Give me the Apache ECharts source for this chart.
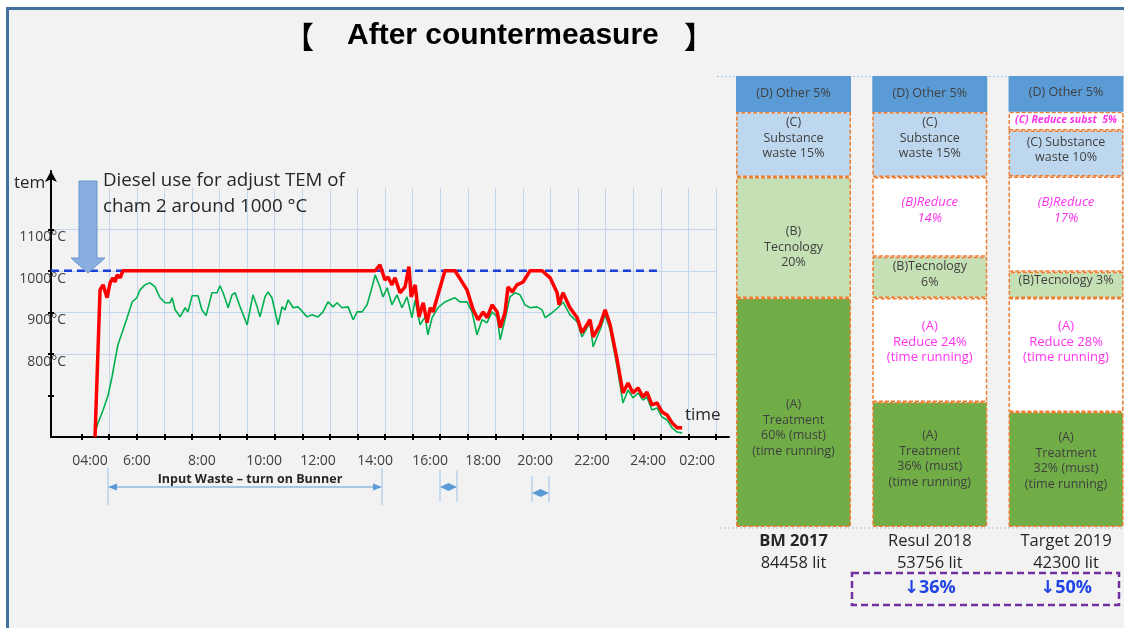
<!DOCTYPE html>
<html><head><meta charset="utf-8">
<script src="https://cdn.jsdelivr.net/npm/echarts@6/dist/echarts.min.js"></script>
<style>html,body{margin:0;padding:0;background:#fff}#c{width:1124px;height:628px}</style>
</head><body><div id="c"></div>
<script>
// ---------- Left chart data (time in hours, temperature in °C) ----------
const timeLabels   = ['04:00','6:00','8:00','10:00','12:00','14:00','16:00','18:00','20:00','22:00','24:00','02:00'];
const timeLabelPos = [4.0, 5.68, 8.01, 10.24, 12.17, 14.22, 16.19, 18.09, 19.95, 21.99, 24.0, 25.76];
const tempLabels   = [800, 900, 1000, 1100];
const targetTemp   = 1000;
const targetSpan   = [2.6, 24.43];

const redTime = [4.18,4.36,4.47,4.54,4.61,4.72,4.82,4.90,4.97,5.08,5.18,14.22,14.39,14.57,14.68,14.82,14.93,15.11,15.29,15.43,15.51,15.65,15.79,15.94,16.08,16.19,16.29,16.47,16.72,17.08,17.51,17.73,17.91,18.09,18.23,18.41,18.59,18.70,18.87,18.98,19.13,19.30,19.52,19.77,20.20,20.49,20.74,20.81,20.95,21.20,21.46,21.63,21.92,22.03,22.28,22.46,22.64,22.89,23.10,23.28,23.46,23.64,23.82,23.96,24.14,24.32,24.50,24.68,24.86,25.04,25.22];
const redTemp = [600,954,966,966,935,971,983,973,990,983,1000,1000,1014,978,985,966,983,947,961,1010,937,966,889,923,875,911,901,942,1000,1000,954,906,882,901,887,918,901,863,899,961,949,966,973,1000,1000,983,947,918,947,911,887,851,882,841,870,906,870,786,706,730,706,718,696,708,677,682,660,653,634,622,622];

const greenTime = [4.18,4.29,4.47,4.65,4.79,4.90,5.00,5.15,5.33,5.51,5.68,5.79,5.97,6.15,6.33,6.51,6.69,6.87,6.94,7.05,7.23,7.41,7.51,7.66,7.87,8.01,8.16,8.37,8.55,8.66,8.77,8.95,9.09,9.20,9.38,9.63,9.84,9.99,10.09,10.27,10.38,10.52,10.74,10.88,10.99,11.10,11.28,11.46,11.78,11.96,12.17,12.35,12.53,12.71,12.85,13.03,13.25,13.43,13.57,13.75,13.93,14.11,14.22,14.39,14.50,14.65,14.82,15.00,15.18,15.36,15.54,15.65,15.83,16.01,16.11,16.26,16.47,16.72,16.90,17.08,17.26,17.51,17.69,17.87,18.05,18.23,18.41,18.59,18.70,18.87,19.05,19.23,19.41,19.59,19.77,20.02,20.20,20.31,20.56,20.77,20.95,21.20,21.46,21.63,21.92,22.03,22.28,22.46,22.64,22.89,23.10,23.28,23.46,23.64,23.82,23.96,24.14,24.32,24.50,24.68,24.86,25.04,25.22];
const greenTemp = [610,634,665,701,745,786,822,851,887,925,935,954,966,971,961,935,923,923,935,906,889,911,901,940,940,906,892,947,947,964,947,911,942,947,913,870,942,913,889,937,949,935,870,913,906,930,911,913,889,894,889,901,925,913,923,911,913,882,901,901,918,961,990,961,937,959,918,942,911,937,887,930,870,889,846,887,911,925,930,935,925,925,901,846,882,875,901,889,834,882,937,947,942,918,911,913,906,887,899,911,925,894,877,841,875,817,858,894,858,769,682,713,694,706,689,696,665,670,648,641,622,612,610];

// ---------- Right columns (drawn share of column height, %) ----------
const columns    = ['BM 2017', 'Resul 2018', 'Target 2019'];
const dieselLit  = [84458, 53756, 42300];
const reductions = [null, 36, 50];
const segATreat  = [50.8, 27.7, 25.5];
const segARed    = ['-', 23.1, 25.3];
const segBTech   = [26.8, 9.1, 5.8];
const segBRed    = ['-', 17.7, 21.1];
const segCSub    = [14.4, 14.4, 10.2];
const segCRed    = ['-', '-', 4.2];
const segDOther  = [8, 8, 8];

const txtATreat = ['(A)\nTreatment\n60% (must)\n(time running)', '(A)\nTreatment\n36% (must)\n(time running)', '(A)\nTreatment\n32% (must)\n(time running)'];
const txtARed   = ['', '(A)\nReduce 24%\n(time running)', '(A)\nReduce 28%\n(time running)'];
const txtBTech  = ['(B)\nTecnology\n20%', '(B)Tecnology\n6%', '(B)Tecnology 3%'];
const txtBRed   = ['', '(B)Reduce\n14%', '(B)Reduce\n17%'];
const txtCSub   = ['(C)\nSubstance\nwaste 15%', '(C)\nSubstance\nwaste 15%', '(C) Substance\nwaste 10%'];
const txtCRed   = ['', '', '(C) Reduce subst  5%'];
const txtDOther = ['(D) Other 5%', '(D) Other 5%', '(D) Other 5%'];

// ---------- styling ----------
const FONT = '"Open Sans", "Noto Sans", "DejaVu Sans", sans-serif';
const PINK = '#ff33ee';
const DARK = '#404040';

const zip = (a, b) => a.slice(0, Math.min(a.length, b.length)).map((v, i) => [v, b[i]]);

function barSeries(name, vals, texts, color, dys, lbl, border) {
  return {
    type: 'bar', name, stack: 'col', xAxisIndex: 2, yAxisIndex: 2, barWidth: 115,
    itemStyle: Object.assign({ color: color, borderColor: '#ed7d31', borderWidth: 1.5, borderType: [4, 2] }, border || {}),
    label: Object.assign({ show: true, position: 'inside', color: DARK, fontSize: 12.5, lineHeight: 15.5, fontFamily: FONT }, lbl || {}),
    data: vals.map((v, i) => ({ value: v, label: { formatter: texts[i], offset: [0, dys[i]] } })),
    emphasis: { disabled: true }, silent: true
  };
}

const chart = echarts.init(document.getElementById('c'), null, { renderer: 'canvas', width: 1124, height: 628 });

const option = {
  animation: false,
  backgroundColor: '#f2f2f2',
  grid: [
    { left: 51, top: 171, width: 678, height: 266, outerBoundsMode: 'none' },
    { left: 54, top: 188, width: 662, height: 249, outerBoundsMode: 'none' },
    { left: 725.4, top: 76, width: 408.75, height: 451, outerBoundsMode: 'none' }
  ],
  xAxis: [
    { type: 'value', gridIndex: 0, min: 2.602, max: 26.9,
      axisLine: { show: true, lineStyle: { color: '#000', width: 2 } },
      axisTick: { show: false }, splitLine: { show: false },
      axisLabel: { customValues: timeLabelPos, margin: 16, color: DARK, fontSize: 14, lineHeight: 16, fontFamily: FONT,
        formatter: v => { let best = 0; timeLabelPos.forEach((p, i) => { if (Math.abs(p - v) < Math.abs(timeLabelPos[best] - v)) best = i; }); return timeLabels[best]; } } },
    { type: 'value', gridIndex: 1, min: 0, max: 24, interval: 1, offset: -3,
      axisLine: { show: false }, axisLabel: { show: false },
      axisTick: { show: true, customValues: [1,2,3,4,5,6,7,8,9,10,11,12,13,14,15,16,17,18,19,20,21,22,23,24], length: 6, lineStyle: { color: '#000', width: 2 } },
      splitLine: { show: true, showMinLine: false, lineStyle: { color: '#c3d6ee', width: 1 } } },
    { type: 'category', gridIndex: 2, data: columns,
      axisLine: { show: false }, axisTick: { show: false },
      axisLabel: { margin: 4, interval: 0,
        formatter: (v) => {
          const idx = columns.indexOf(v);
          const head = idx === 0 ? `{b|${v}}` : `{n|${v}}`;
          const red = reductions[idx] != null ? `{r|↓${reductions[idx]}%}` : `{r| }`;
          return `${head}\n{v|${dieselLit[idx]} lit}\n${red}`;
        },
        rich: {
          b: { fontFamily: FONT, fontSize: 16.5, fontWeight: 'bold', color: '#262626', lineHeight: 21 },
          n: { fontFamily: FONT, fontSize: 16.5, color: '#262626', lineHeight: 21 },
          v: { fontFamily: FONT, fontSize: 16.5, color: '#262626', lineHeight: 22 },
          r: { fontFamily: FONT, fontSize: 18, fontWeight: 'bold', color: '#1f45e8', lineHeight: 28 }
        } } }
  ],
  yAxis: [
    { type: 'value', gridIndex: 0, min: 600, max: 1240,
      axisLine: { show: true, symbol: ['none', 'arrow'], symbolSize: [9, 11], lineStyle: { color: '#000', width: 2 } },
      axisTick: { show: false }, splitLine: { show: false },
      axisLabel: { customValues: tempLabels, margin: -15, color: DARK, fontSize: 14, lineHeight: 16, fontFamily: FONT,
        verticalAlign: 'top', formatter: v => v + '°C' } },
    { type: 'value', gridIndex: 1, min: 600, max: 1200, interval: 100,
      axisLine: { show: false }, axisLabel: { show: false },
      axisTick: { show: true, customValues: [700, 800, 900, 1000, 1100], length: 6, lineStyle: { color: '#000', width: 2 } },
      splitLine: { show: true, showMinLine: false, lineStyle: { color: '#c3d6ee', width: 1 } } },
    { type: 'value', gridIndex: 2, min: 0, max: 100, show: false }
  ],
  series: [
    { type: 'line', name: 'target', xAxisIndex: 0, yAxisIndex: 0, symbol: 'none', silent: true, z: 2,
      lineStyle: { color: '#1a3fd6', width: 2.5, type: [8, 5] },
      data: [[targetSpan[0], targetTemp], [targetSpan[1], targetTemp]] },
    { type: 'line', name: 'chamber 1', xAxisIndex: 0, yAxisIndex: 0, symbol: 'none', silent: true, z: 3,
      lineStyle: { color: '#00b050', width: 1.6 }, data: zip(greenTime, greenTemp) },
    { type: 'line', name: 'chamber 2', xAxisIndex: 0, yAxisIndex: 0, symbol: 'none', silent: true, z: 4,
      lineStyle: { color: '#ff0000', width: 3.5 }, data: zip(redTime, redTemp) },
    barSeries('A treatment', segATreat, txtATreat, '#70ad47', [15.5, -5.5, -8.5]),
    barSeries('A reduce', segARed, txtARed, '#ffffff', [0, -8, -13], { color: PINK, fontSize: 13 }),
    barSeries('B tech', segBTech, txtBTech, '#c5e0b4', [9.5, -3, -4]),
    barSeries('B reduce', segBRed, txtBRed, '#ffffff', [0, -6.5, -14], { color: PINK, fontStyle: 'italic', fontSize: 13 }),
    barSeries('C substance', segCSub, txtCSub, '#bdd7ee', [-6.5, -6.5, -3.5]),
    barSeries('C reduce', segCRed, txtCRed, '#ffffff', [0, 0, -1.5], { color: PINK, fontStyle: 'italic', fontWeight: 'bold', fontSize: 10.5 }),
    barSeries('D other', segDOther, txtDOther, '#5b9bd5', [-1, -1, -1], null, { borderWidth: 0 })
  ],
  graphic: [
    { type: 'rect', shape: { x: 0, y: 0, width: 1124, height: 7 }, style: { fill: '#fff' }, silent: true },
    { type: 'rect', shape: { x: 0, y: 0, width: 6, height: 628 }, style: { fill: '#fff' }, silent: true },
    { type: 'line', shape: { x1: 6, y1: 8.5, x2: 1124, y2: 8.5 }, style: { stroke: '#41719c', lineWidth: 3 }, silent: true },
    { type: 'line', shape: { x1: 7.5, y1: 7, x2: 7.5, y2: 628 }, style: { stroke: '#41719c', lineWidth: 3 }, silent: true },
    // title
    { type: 'text', x: 284, y: 37, z: 50, style: { text: '【', fontFamily: '"Noto Sans CJK SC"', fontWeight: 'bold', fontSize: 30, fill: '#000', align: 'left', verticalAlign: 'middle' } },
    { type: 'text', x: 347, y: 36, z: 50, style: { text: 'After countermeasure', fontFamily: '"Liberation Sans", Arial, sans-serif', fontWeight: 'bold', fontSize: 30, fill: '#000', align: 'left', verticalAlign: 'middle' } },
    { type: 'text', x: 684, y: 37, z: 50, style: { text: '】', fontFamily: '"Noto Sans CJK SC"', fontWeight: 'bold', fontSize: 30, fill: '#000', align: 'left', verticalAlign: 'middle' } },
    // axis names
    { type: 'text', x: 14, y: 183, z: 50, style: { text: 'tem', fontFamily: FONT, fontSize: 17, fill: '#262626', align: 'left', verticalAlign: 'middle' } },
    { type: 'text', x: 685, y: 415, z: 50, style: { text: 'time', fontFamily: FONT, fontSize: 17, fill: '#262626', align: 'left', verticalAlign: 'middle' } },
    // annotation arrow + text
    { type: 'polygon', z: 50, shape: { points: [[79,181],[97,181],[97,258],[105,258],[88,273],[71,258],[79,258]] }, style: { fill: '#87aede', stroke: '#6a95cc', lineWidth: 1 }, silent: true },
    { type: 'text', x: 103, y: 181, z: 50, style: { text: 'Diesel use for adjust TEM of', fontFamily: FONT, fontSize: 18.7, fill: '#262626', align: 'left', verticalAlign: 'middle' } },
    { type: 'text', x: 103, y: 207, z: 50, style: { text: 'cham 2 around 1000 °C', fontFamily: FONT, fontSize: 18.7, fill: '#262626', align: 'left', verticalAlign: 'middle' } },
    // input waste arrow
    { type: 'line', shape: { x1: 108, y1: 468, x2: 108, y2: 505 }, style: { stroke: '#9dc3e6', lineWidth: 1 }, silent: true },
    { type: 'line', shape: { x1: 382, y1: 468, x2: 382, y2: 505 }, style: { stroke: '#9dc3e6', lineWidth: 1 }, silent: true },
    { type: 'line', shape: { x1: 112, y1: 487, x2: 378, y2: 487 }, style: { stroke: '#5b9bd5', lineWidth: 1 }, silent: true },
    { type: 'polygon', shape: { points: [[108,487],[117,483.5],[117,490.5]] }, style: { fill: '#5b9bd5' }, silent: true },
    { type: 'polygon', shape: { points: [[382,487],[373,483.5],[373,490.5]] }, style: { fill: '#5b9bd5' }, silent: true },
    { type: 'text', x: 250, y: 479, z: 50, style: { text: 'Input Waste – turn on Bunner', fontFamily: FONT, fontWeight: 'bold', fontSize: 12.5, fill: '#262626', align: 'center', verticalAlign: 'middle' } },
    // small arrows
    { type: 'line', shape: { x1: 440, y1: 470, x2: 440, y2: 502 }, style: { stroke: '#9dc3e6', lineWidth: 1 }, silent: true },
    { type: 'line', shape: { x1: 457, y1: 470, x2: 457, y2: 502 }, style: { stroke: '#9dc3e6', lineWidth: 1 }, silent: true },
    { type: 'polygon', shape: { points: [[440,487],[448.5,483],[457,487],[448.5,491]] }, style: { fill: '#5b9bd5' }, silent: true },
    { type: 'line', shape: { x1: 532, y1: 476, x2: 532, y2: 502 }, style: { stroke: '#9dc3e6', lineWidth: 1 }, silent: true },
    { type: 'line', shape: { x1: 549, y1: 476, x2: 549, y2: 502 }, style: { stroke: '#9dc3e6', lineWidth: 1 }, silent: true },
    { type: 'polygon', shape: { points: [[532,493],[540.5,489],[549,493],[540.5,497]] }, style: { fill: '#5b9bd5' }, silent: true },
    // dotted guides around columns
    { type: 'line', shape: { x1: 717, y1: 76.5, x2: 1124, y2: 76.5 }, style: { stroke: '#9dc3e6', lineWidth: 1, lineDash: [2, 2] }, silent: true },
    { type: 'line', shape: { x1: 720, y1: 528, x2: 1124, y2: 528 }, style: { stroke: '#9dc3e6', lineWidth: 1, lineDash: [2, 2] }, silent: true },
    // purple reduction box
    { type: 'rect', z: 50, shape: { x: 852, y: 573, width: 267, height: 32 }, style: { fill: 'none', stroke: '#7030a0', lineWidth: 2.5, lineDash: [7, 4] }, silent: true }
  ]
};
chart.setOption(option);
</script>
</body></html>
